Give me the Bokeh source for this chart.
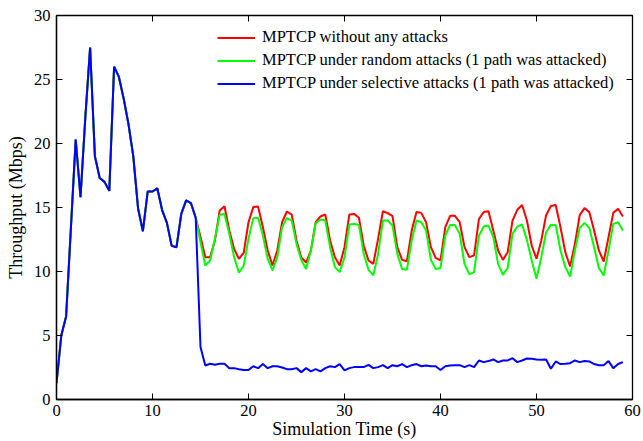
import numpy as np
from bokeh.plotting import figure
from bokeh.models import Range1d, FixedTicker, Legend, LegendItem, ColumnDataSource
from bokeh.embed import file_html
from bokeh.resources import INLINE

# ---------------- data (sampled every 0.5 s) ----------------
x_ticks = [0, 10, 20, 30, 40, 50, 60]
y_ticks = [0, 5, 10, 15, 20, 25, 30]

# shared segment t = 0 .. 14.5 s (all three curves coincide)
common = [
    1.27, 5.0, 6.48, 13.4, 20.3, 15.8, 22.0, 27.5, 19.0, 17.3,
    17.0, 16.3, 26.0, 25.2, 23.5, 21.5, 19.0, 14.9, 13.15, 16.25,
    16.25, 16.5, 14.8, 13.8, 12.0, 11.9, 14.5, 15.55, 15.35, 14.2,
]

# t = 15 .. 59 s
red_after = [
    12.7, 11.12, 11.12, 12.42, 14.77, 15.1, 13.2, 11.77, 10.99, 11.46,
    13.85, 15.03, 15.07, 13.46, 11.64, 10.47, 11.64, 13.85, 14.69, 14.45,
    12.42, 11.1, 10.7, 11.64, 13.85, 14.3, 14.45, 12.42, 11.12, 10.47,
    11.9, 14.45, 14.5, 14.2, 12.03, 10.86, 10.6, 12.55, 14.71, 14.56,
    14.32, 11.9, 10.91, 10.8, 13.2, 14.64, 14.58, 13.85, 11.9, 11.07,
    10.86, 13.46, 14.35, 14.35, 13.85, 11.9, 11.12, 11.26, 14.1, 14.64,
    14.71, 13.2, 11.64, 10.91, 11.51, 13.98, 14.82, 15.2, 13.98, 12.03,
    10.99, 12.42, 14.4, 15.12, 15.2, 13.46, 11.51, 10.39, 12.16, 14.4,
    14.95, 14.64, 13.2, 11.64, 10.78, 12.68, 14.58, 14.9, 14.3,
]

green_after = [
    12.3, 10.47, 10.86, 12.55, 14.43, 14.5, 12.94, 11.12, 9.9, 10.47,
    12.55, 14.17, 14.2, 12.81, 10.99, 10.08, 11.12, 13.46, 14.17, 13.98,
    12.16, 10.9, 10.2, 11.64, 13.77, 14.06, 13.98, 11.9, 10.34, 9.95,
    11.12, 13.67, 13.72, 13.64, 11.38, 10.13, 9.69, 11.38, 13.98, 13.98,
    13.59, 11.38, 10.2, 10.13, 12.42, 13.98, 13.85, 13.2, 10.91, 10.2,
    10.28, 12.81, 13.64, 13.64, 12.94, 10.6, 9.77, 9.95, 12.8, 13.51,
    13.59, 12.68, 10.6, 9.74, 10.28, 12.94, 13.51, 13.67, 12.47, 10.86,
    9.43, 11.12, 13.07, 13.64, 13.64, 11.64, 10.34, 9.61, 11.64, 13.41,
    13.8, 13.41, 11.9, 10.28, 9.69, 11.64, 13.72, 13.85, 13.2,
]

blue_after = [
    4.1, 2.66, 2.79, 2.72, 2.79, 2.79, 2.45, 2.45, 2.37, 2.3,
    2.3, 2.6, 2.45, 2.77, 2.45, 2.6, 2.6, 2.5, 2.37, 2.37,
    2.45, 2.14, 2.45, 2.2, 2.37, 2.2, 2.45, 2.6, 2.53, 2.77,
    2.27, 2.45, 2.53, 2.53, 2.53, 2.71, 2.45, 2.53, 2.68, 2.45,
    2.68, 2.6, 2.77, 2.53, 2.68, 2.77, 2.6, 2.66, 2.6, 2.6,
    2.3, 2.6, 2.66, 2.68, 2.68, 2.53, 2.68, 2.53, 3.05, 2.92,
    3.0, 3.13, 2.92, 3.05, 3.05, 3.23, 2.92, 3.05, 3.2, 3.18,
    3.13, 3.1, 3.13, 2.4, 2.97, 2.77, 2.79, 2.84, 3.05, 2.92,
    3.0, 2.97, 2.77, 2.68, 2.68, 3.0, 2.45, 2.77, 2.92,
]

series_names = [
    "MPTCP without any attacks",
    "MPTCP under random attacks (1 path was attacked)",
    "MPTCP under selective attacks (1 path was attacked)",
]
series_colors = ["#ff0000", "#00ff00", "#0000ff"]
series_values = [common + red_after, common + green_after, common + blue_after]

# ---------------- figure ----------------
FONT = "Liberation Serif"
X0, X1, Y0, Y1 = 0, 60, 0, 30
p = figure(width=643, height=441, output_backend="svg", toolbar_location=None,
           x_range=Range1d(X0, X1), y_range=Range1d(Y0, Y1),
           min_border_left=56, min_border_right=11, min_border_top=15, min_border_bottom=42)
p.background_fill_color = "white"
p.border_fill_color = "white"
p.grid.visible = False
p.outline_line_color = "black"
p.outline_line_width = 1.3

p.xaxis.ticker = FixedTicker(ticks=x_ticks)
p.yaxis.ticker = FixedTicker(ticks=y_ticks)
p.xaxis.axis_label = "Simulation Time (s)"
p.yaxis.axis_label = "Throughput (Mbps)"
for ax in (p.xaxis[0], p.yaxis[0]):
    ax.major_label_text_font = FONT
    ax.major_label_text_font_size = "16.5px"
    ax.major_label_text_color = "black"
    ax.axis_label_text_font = FONT
    ax.axis_label_text_font_size = "18px"
    ax.axis_label_text_font_style = "normal"
    ax.axis_label_text_color = "black"
    ax.major_tick_in = 6
    ax.major_tick_out = 0
    ax.minor_tick_in = 0
    ax.minor_tick_out = 0
    ax.axis_line_color = "black"
    ax.axis_line_width = 1.3
    ax.major_tick_line_color = "black"
    ax.major_tick_line_width = 1
p.xaxis.major_label_standoff = 5
p.xaxis.axis_label_standoff = 0
p.yaxis.major_label_standoff = 6
p.yaxis.axis_label_standoff = 5

# mirrored tick marks on the top and right edges (clipped to the frame)
p.scatter(x=x_ticks, y=[Y1] * len(x_ticks), marker="dash", size=12, angle=np.pi / 2,
          line_color="black", line_width=1)
p.scatter(x=[X1] * len(y_ticks), y=y_ticks, marker="dash", size=12,
          line_color="black", line_width=1)

items = []
for name, color, vals in zip(series_names, series_colors, series_values):
    t = [0.5 * i for i in range(len(vals))]
    src = ColumnDataSource(dict(t=t, v=vals))
    r = p.line("t", "v", source=src, line_color=color, line_width=2)
    items.append(LegendItem(label=name, renderers=[r]))

legend = Legend(items=items, location=(156, 301), glyph_width=38, glyph_height=19,
                label_height=19, spacing=3, padding=5, label_standoff=7,
                label_text_font=FONT, label_text_font_size="16.5px", label_text_color="black",
                border_line_alpha=0, background_fill_alpha=0)
p.add_layout(legend)

open("out.html", "w").write(file_html(p, INLINE))
